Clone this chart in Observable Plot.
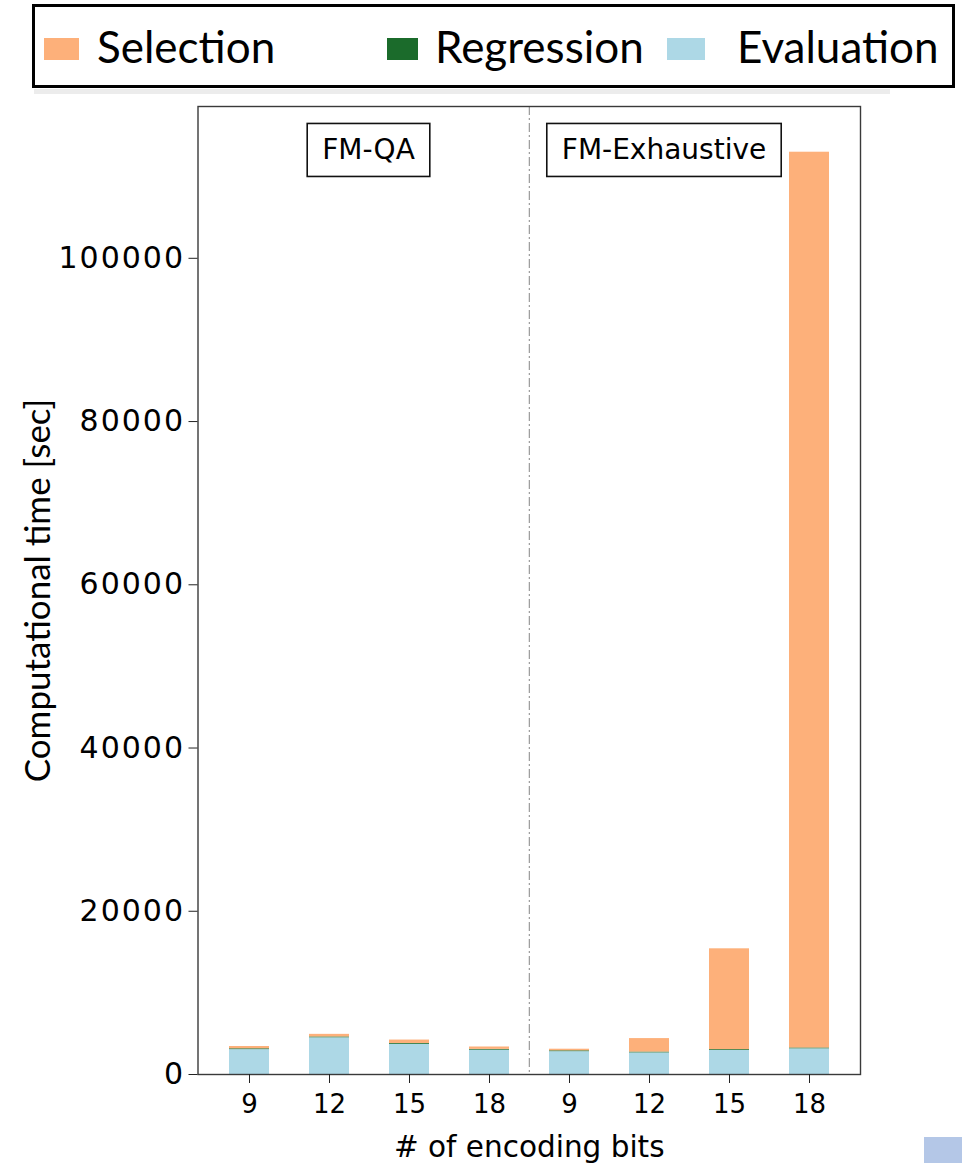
<!DOCTYPE html>
<html>
<head>
<meta charset="utf-8">
<script src="https://cdn.jsdelivr.net/npm/d3@7"></script>
<script src="https://cdn.jsdelivr.net/npm/@observablehq/plot@0.6"></script>
<style>
  html, body { margin: 0; padding: 0; background: #fff; }
  body { width: 962px; height: 1163px; overflow: hidden; position: relative; font-family: "DejaVu Sans", sans-serif; }
  #legend { position: relative; height: 96px; }
  #legend .box { position: absolute; left: 32px; top: 4px; width: 917px; height: 78px; border: 3px solid #000; }
  #legend .shadow { position: absolute; left: 34px; top: 89px; width: 856px; height: 5px; background: #ececec; }
  #legend .sw { position: absolute; top: 38px; height: 22px; }
  #legend .lab { position: absolute; top: 23px; font-family: Lato, "Open Sans", sans-serif; font-size: 44px; line-height: 46px; color: #000; white-space: nowrap; }
  #chart svg { display: block; }
  #chart g[aria-label="y-axis tick label"] text { letter-spacing: 2px; }
  #corner { position: absolute; left: 924px; top: 1137px; width: 38px; height: 26px; background: #B4C7E7; }
</style>
</head>
<body>
<div id="legend"></div>
<div id="chart"></div>
<div id="corner"></div>
<script>
// ---- data ----
const groups = ["FM-QA", "FM-Exhaustive"];
const bits = [9, 12, 15, 18];
const series = ["Selection", "Regression", "Evaluation"];
const seriesColors = ["#FDB07A", "#1B6B2B", "#ADD8E6"];
// values per bar, order: FM-QA 9,12,15,18 then FM-Exhaustive 9,12,15,18
const evaluation = [3050, 4500, 3700, 2980, 2800, 2650, 2950, 3150];
const regression = [100, 100, 100, 100, 100, 100, 100, 100];
const selection  = [280, 320, 420, 290, 200, 1650, 12350, 109750];
const yTicks = [0, 20000, 40000, 60000, 80000, 100000];
const yMax = 118600;

// ---- table ----
const keys = groups.flatMap(g => bits.map(b => `${g}|${b}`));
const data = [];
keys.forEach((k, i) => {
  data.push({key: k, series: "Evaluation", value: evaluation[i]});
  data.push({key: k, series: "Regression", value: regression[i]});
  data.push({key: k, series: "Selection", value: selection[i]});
});

// ---- legend (HTML) ----
const legend = document.getElementById("legend");
legend.innerHTML = `<div class="box"></div><div class="shadow"></div>`;
const legendLayout = [
  {sw: 44, w: 35, lab: 97},
  {sw: 387, w: 31, lab: 435},
  {sw: 667, w: 38, lab: 737}
];
series.forEach((s, i) => {
  const L = legendLayout[i];
  const sw = document.createElement("div");
  sw.className = "sw"; sw.style.left = L.sw + "px"; sw.style.width = L.w + "px"; sw.style.background = seriesColors[i];
  const lab = document.createElement("div");
  lab.className = "lab"; lab.style.left = L.lab + "px"; lab.textContent = s;
  legend.appendChild(sw); legend.appendChild(lab);
});

// ---- plot ----
const W = 962, H = 1067, mL = 197.5, mR = 102, mT = 10, mB = 89;
const padIn = 0.5, padOut = 0.375;
const step = (W - mL - mR) / (keys.length - padIn + 2 * padOut);

function boxed(g) { g.classList.add("anno"); return g; }

const plot = Plot.plot({
  width: W, height: H,
  marginLeft: mL, marginRight: mR, marginTop: mT, marginBottom: mB,
  style: {background: "transparent", fontFamily: "DejaVu Sans", color: "#000", overflow: "visible"},
  x: {domain: keys, paddingInner: padIn, paddingOuter: padOut, axis: null},
  y: {domain: [0, yMax], axis: null},
  color: {domain: series, range: seriesColors},
  marks: [
    Plot.barY(data, Plot.stackY({x: "key", y: "value", fill: "series", order: ["Evaluation", "Regression", "Selection"]})),
    Plot.ruleX([keys[bits.length]], {x: d => d, dx: -step / 2, stroke: "#9a9a9a", strokeWidth: 1.2, strokeDasharray: "9,3,2,3"}),
    Plot.frame({stroke: "#3a3a3a", strokeWidth: 1.4}),
    Plot.axisY({ticks: yTicks, tickSize: 9, tickPadding: 4, fontSize: 30, tickFormat: d3.format("d"), label: null, stroke: "#222"}),
    Plot.axisX({tickSize: 9, tickPadding: 11, fontSize: 26, tickFormat: k => k.split("|")[1], label: null, stroke: "#222"}),
    Plot.text(["Computational time [sec]"], {text: d => d, frameAnchor: "left", textAnchor: "middle", lineAnchor: "middle", dx: -159.5, rotate: -90, fontSize: 35, fontFamily: "Lato", fill: "#000"}),
    Plot.text(["# of encoding bits"], {text: d => d, frameAnchor: "bottom", dy: 73, lineAnchor: "middle", fontSize: 29.5, fill: "#000"}),
    Plot.text([groups[0]], {text: d => d, frameAnchor: "top-left", textAnchor: "middle", dx: 170.5, dy: 44, lineAnchor: "middle", fontSize: 28, fill: "#000",
      render: (i, s, v, d, c, next) => boxed(next(i, s, v, d, c))}),
    Plot.text([groups[1]], {text: d => d, frameAnchor: "top-left", textAnchor: "middle", dx: 466, dy: 44, lineAnchor: "middle", fontSize: 28, fill: "#000",
      render: (i, s, v, d, c, next) => boxed(next(i, s, v, d, c))})
  ]
});
document.getElementById("chart").appendChild(plot);

// boxes around annotation labels
plot.querySelectorAll("g.anno text").forEach(t => {
  const b = t.getBBox();
  const r = document.createElementNS("http://www.w3.org/2000/svg", "rect");
  const px = 15, py = 10;
  r.setAttribute("x", b.x - px); r.setAttribute("y", b.y - py);
  r.setAttribute("width", b.width + 2 * px); r.setAttribute("height", b.height + 2 * py);
  r.setAttribute("fill", "#fff"); r.setAttribute("stroke", "#111"); r.setAttribute("stroke-width", 1.6);
  if (t.getAttribute("transform")) r.setAttribute("transform", t.getAttribute("transform"));
  t.parentNode.insertBefore(r, t);
});
</script>
</body>
</html>
